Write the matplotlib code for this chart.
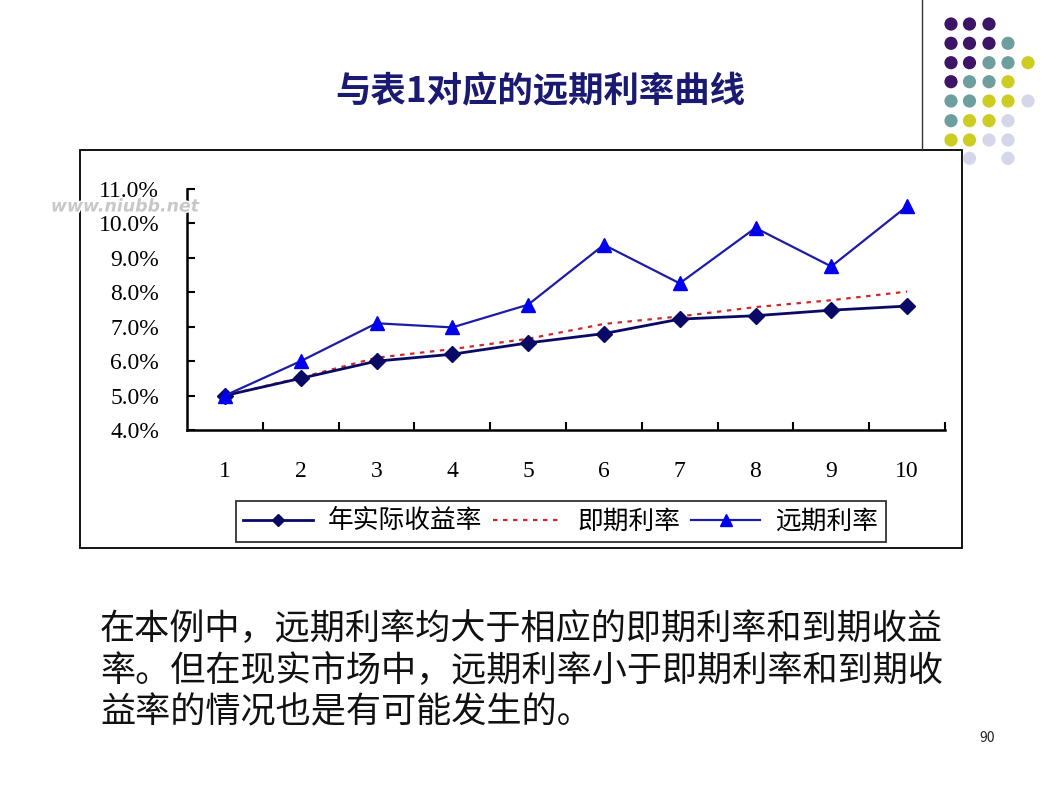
import matplotlib
matplotlib.use("Agg")
import matplotlib.pyplot as plt
from matplotlib.patches import Rectangle, Circle
from matplotlib.lines import Line2D
import matplotlib.patheffects as pe
from matplotlib.ticker import FuncFormatter, FixedLocator

plt.rcParams['font.family'] = ['Noto Sans CJK SC', 'DejaVu Sans']

years = [1, 2, 3, 4, 5, 6, 7, 8, 9, 10]
ytm = [5.0, 5.5, 6.0, 6.2, 6.53, 6.8, 7.22, 7.32, 7.48, 7.6]
spot = [5.0, 5.52, 6.1, 6.35, 6.65, 7.08, 7.3, 7.57, 7.77, 8.02]
forward = [5.0, 6.0, 7.1, 6.98, 7.64, 9.38, 8.26, 9.87, 8.75, 10.5]
series_names = ['年实际收益率', '即期利率', '远期利率']
y_ticks = [4, 5, 6, 7, 8, 9, 10, 11]

W, H = 1058, 794
fig = plt.figure(figsize=(W / 100, H / 100), dpi=100)
fig.patch.set_facecolor('white')

def fx(px):
    return px / W

def fy(py):
    return 1 - py / H

# Title
fig.text(fx(540), fy(92), '与表1对应的远期利率曲线', ha='center', va='center',
         fontsize=25.5, fontweight='bold', color='#1a1a72')

# Chart frame
fig.patches.append(Rectangle((fx(80), fy(548)), fx(962) - fx(80), fy(150) - fy(548),
                             transform=fig.transFigure, fill=False, edgecolor='black',
                             linewidth=1.3, zorder=1))
# decorative line top right
fig.add_artist(Line2D([fx(922), fx(922)], [fy(0), fy(150)], transform=fig.transFigure,
                      color='#333333', linewidth=1.0))

# Decorative dots
P, T, Yc, L = '#3d1466', '#6e9e9e', '#cccc22', '#d6d6ea'
cols_x = [951, 969.5, 989, 1008, 1028]
rows_y = [24, 43.3, 62.7, 81.7, 101, 120.7, 140, 158.3]
pattern = [
    [P, P, P, None, None],
    [P, P, P, T, None],
    [P, P, T, T, Yc],
    [P, T, T, Yc, None],
    [T, T, Yc, Yc, L],
    [T, Yc, Yc, L, None],
    [Yc, Yc, L, L, None],
    [None, L, None, L, None],
]
for r, row in enumerate(pattern):
    for c, col in enumerate(row):
        if col is None:
            continue
        fig.patches.append(Circle((cols_x[c], H - rows_y[r]), 6.6, transform=None,
                                  facecolor=col, edgecolor='none'))

# Axes
ax = fig.add_axes([fx(187), fy(430), fx(945) - fx(187), fy(189) - fy(430)])
ax.set_facecolor('none')
ax.plot(years, ytm, color='#0a0a66', linewidth=2.0, marker='D', markersize=8,
        markerfacecolor='#0a0a66', markeredgecolor='#0a0a66', label=series_names[0], zorder=3)
ax.plot(years, spot, color='#cc2a2a', linewidth=1.6, linestyle=(0, (2, 2.5)),
        label=series_names[1], zorder=2)
ax.plot(years, forward, color='#1c1ca6', linewidth=1.6, marker='^', markersize=10,
        markerfacecolor='#0000ee', markeredgecolor='#0000ee', label=series_names[2], zorder=4)

ax.set_xlim(0.5, 10.5)
ax.set_ylim(4, 11)
for s in ['top', 'right']:
    ax.spines[s].set_visible(False)
for s in ['left', 'bottom']:
    ax.spines[s].set_linewidth(1.8)
    ax.spines[s].set_color('black')

ax.set_yticks(y_ticks)
ax.yaxis.set_major_formatter(FuncFormatter(lambda v, p: f'{v:.1f}%'))
ax.tick_params(axis='y', direction='in', length=6, width=1.5, labelsize=17, pad=20)
ax.set_xticks(years)
ax.set_xticklabels([str(y) for y in years])
ax.tick_params(axis='x', which='major', length=0, labelsize=17, pad=22)
ax.xaxis.set_minor_locator(FixedLocator([i + 0.5 for i in range(1, 11)]))
ax.tick_params(axis='x', which='minor', direction='in', length=6, width=1.5)
for lab in ax.get_xticklabels() + ax.get_yticklabels():
    lab.set_fontfamily(['Liberation Serif', 'DejaVu Serif'])

# Legend
leg = fig.legend(handles=ax.get_lines(), labels=series_names, ncol=3,
                 loc='center', bbox_to_anchor=(fx(561), fy(521.5)),
                 frameon=True, fancybox=False, edgecolor='black', fontsize=18.5,
                 handlelength=2.7, columnspacing=0.4, handletextpad=0.6,
                 borderpad=0.3, borderaxespad=0, markerscale=0.8)
leg.get_frame().set_linewidth(1.3)

# Watermark
fig.text(fx(125), fy(206.5), 'www.niubb.net', ha='center', va='center', fontsize=12.5,
         fontstyle='italic', fontweight='bold', color='#c8c8c8',
         family=['DejaVu Sans'],
         path_effects=[pe.withStroke(linewidth=2, foreground='white')])

# Body text
body = ('在本例中，远期利率均大于相应的即期利率和到期收益\n'
        '率。但在现实市场中，远期利率小于即期利率和到期收\n'
        '益率的情况也是有可能发生的。')
fig.text(fx(100), fy(611), body, ha='left', va='top', fontsize=25.3,
         color='#111111', linespacing=1.2)

fig.text(fx(987), fy(738), '90', ha='center', va='center', fontsize=10, color='#222222')

fig.savefig('out.png', dpi=100)
